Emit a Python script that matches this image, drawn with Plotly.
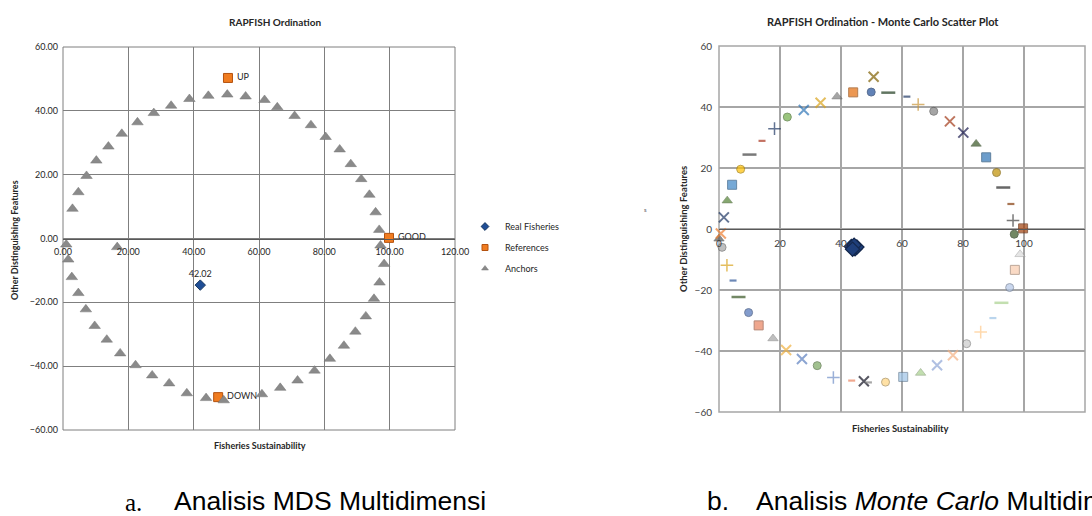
import plotly.graph_objects as go

W, H = 1092, 516

# ---------------- Chart a: RAPFISH Ordination (MDS) ----------------
anchor_x = [2.9, 4.7, 7.2, 10.2, 13.9, 18.0, 22.8, 27.8, 33.1, 38.7, 44.5, 50.3, 55.9,
            61.7, 65.6, 70.9, 75.9, 80.4, 84.7, 88.1, 91.3, 93.8, 95.7, 96.8, 97.2,
            1.0, 16.6,
            1.6, 2.7, 4.7, 7.0, 9.7, 13.4, 17.5, 22.2, 27.3, 32.5, 37.9, 43.8, 49.2,
            60.9, 66.5, 71.8, 77.0, 81.7, 86.0, 89.5, 92.7, 95.2, 96.9, 98.3]
anchor_y = [9.3, 14.5, 19.6, 24.4, 28.8, 32.8, 36.4, 39.3, 41.6, 43.7, 44.7, 45.1, 44.5,
            43.4, 41.1, 38.4, 35.5, 31.8, 27.9, 23.3, 18.6, 13.7, 8.2, 2.7, -2.2,
            -1.9, -2.7,
            -6.6, -12.1, -17.1, -22.2, -27.4, -31.7, -36.0, -39.7, -42.9, -45.4, -48.5, -50.0, -50.7,
            -48.8, -46.8, -44.5, -41.4, -37.7, -33.6, -29.2, -24.4, -18.9, -13.8, -8.0]
ref_x = [-0.5, 99.8, 50.5, 47.5]
ref_y = [-2.4, 0.2, 50.3, -49.7]
ref_labels = ["BAD", "GOOD", "UP", "DOWN"]
real_x = [42.02]
real_y = [-14.6]
real_labels = ["42.02"]
a_xticks = [0, 20, 40, 60, 80, 100, 120]
a_yticks = [-60, -40, -20, 0, 20, 40, 60]
legend_names = ["Real Fisheries", "References", "Anchors"]

# ---------------- Chart b: Monte Carlo scatter ----------------
mc_x = [0.0, 0.6, 1.6, 2.7, 4.3, 7.1, 10.0, 14.1, 18.2, 22.4, 27.8, 33.3, 38.7, 44.0,
        49.9, 50.7, 55.5, 61.6, 65.3, 70.4, 75.7, 80.1, 84.3, 87.6, 91.0, 93.2, 95.7,
        96.4, 99.7, 96.8,
        1.0, 2.6, 4.6, 6.4, 9.7, 13.0, 17.7, 22.0, 27.2, 32.2, 37.5, 43.5, 47.5, 49.0,
        54.6, 60.4, 66.1, 71.5, 76.7, 81.2, 85.8, 89.8, 92.6, 95.3, 97.0, 98.7]
mc_y = [-3.2, -1.5, 3.8, 9.3, 14.5, 19.6, 24.4, 28.9, 32.9, 36.7, 39.0, 41.4, 43.4, 44.8,
        44.9, 49.9, 44.7, 43.4, 40.8, 38.6, 35.3, 31.6, 27.9, 23.5, 18.5, 13.6, 8.2,
        2.8, 0.2, -1.7,
        -6.0, -11.9, -16.9, -22.3, -27.4, -31.6, -35.9, -39.7, -42.6, -44.8, -48.7, -49.7, -49.9, -50.3,
        -50.2, -48.5, -47.2, -44.7, -41.4, -37.6, -33.8, -29.2, -24.2, -19.2, -13.4, -8.3]
mc_real_x = [43.4, 44.0, 44.6, 45.2, 44.3, 43.8]
mc_real_y = [-5.7, -6.2, -6.5, -5.9, -5.3, -6.6]
b_xticks = [0, 20, 40, 60, 80, 100, 120]
b_yticks = [-60, -40, -20, 0, 20, 40, 60]

# marker styles for the Monte Carlo points (kind code, colour)
mc_kind = ['t', 'x', 'x', 't', 's', 'c', '-', '.', '+', 'c', 'x', 'x', 't', 's',
           'c', 'x', '-', '.', '+', 'c', 'x', 'x', 't', 's', 'c', '-', '.',
           '+', 's', 'c',
           'c', '+', '.', '-', 'c', 's', 't', 'x', 'x', 'c', '+', '.', 'x', '.',
           'c', 's', 't', 'x', 'x', 'c', '+', '.', '-', 'c', 's', 't']
mc_color = ['#595959', '#ed7d31', '#203864', '#548235', '#3d85c6', '#ffc000', '#404040', '#a9341f',
            '#203864', '#70ad47', '#2e75b6', '#d9a21b', '#808080', '#e46c0a',
            '#1f4e9a', '#7f6000', '#1e3a1e', '#203864', '#c9963a', '#808080', '#a33a1a', '#1a1a4e',
            '#375623', '#2e75b6', '#bf9000', '#262626', '#843c0c',
            '#404040', '#a0410d', '#375623',
            '#a5a5a5', '#d9a21b', '#2e5597', '#375623', '#4f73b8', '#e9835f', '#a5a5a5', '#f0b040',
            '#5b7fbf', '#7aa860', '#6f8fc7', '#e9835f', '#101020', '#808080',
            '#ffd580', '#9dc3e6', '#a9d18e', '#8fa5d6', '#f4b183', '#c9c9c9', '#ffc98a', '#9dc3e6',
            '#a9d18e', '#b4c7e7', '#f8cbad', '#dbdbdb']

KIND_SYMBOL = {'c': 'circle', 's': 'square', 't': 'triangle-up', 'x': 'x-thin-open',
               '+': 'cross-thin-open', '-': 'line-ew-open', '.': 'line-ew-open'}
KIND_SIZE = {'c': 8, 's': 9, 't': 9, 'x': 10, '+': 9, '-': 10, '.': 5}
KIND_LW = {'c': 1, 's': 1, 't': 0.6, 'x': 2, '+': 1.5, '-': 2.5, '.': 2.2}


def darker(hexc, f=0.65):
    r, g, b = int(hexc[1:3], 16), int(hexc[3:5], 16), int(hexc[5:7], 16)
    return '#%02x%02x%02x' % (int(r * f), int(g * f), int(b * f))


mc_line_color = [c if k in 'x+-.' else darker(c) for k, c in zip(mc_kind, mc_color)]

FONT = "Lato, Calibri, 'Open Sans', sans-serif"


def px(v):
    return v / W


def py(v):
    return 1 - v / H


A_XDOM = [px(63), px(455)]
A_YDOM = [py(430), py(47)]
B_XDOM = [px(719), px(1085)]
B_YDOM = [py(412), py(46)]

REAL_MARK = dict(symbol='diamond', color='#1f4e96', line=dict(color='#17375e', width=1))
REF_MARK = dict(symbol='square', color='#f07c20', line=dict(color='#b4520f', width=1))
ANC_MARK = dict(symbol='triangle-up', color='#8a8a8a', line=dict(color='#777777', width=0.5))

fig = go.Figure()

# chart a traces
fig.add_trace(go.Scatter(
    x=real_x, y=real_y, mode='markers+text', showlegend=False,
    text=real_labels, textposition='top center',
    textfont=dict(size=9, color='#262626', family=FONT),
    marker=dict(size=8, **REAL_MARK), xaxis='x', yaxis='y', cliponaxis=False))
fig.add_trace(go.Scatter(
    x=ref_x, y=ref_y, mode='markers+text', showlegend=False,
    text=[' ' + t for t in ref_labels], textposition='middle right',
    textfont=dict(size=9, color='#262626', family=FONT),
    marker=dict(size=9, **REF_MARK), xaxis='x', yaxis='y', cliponaxis=False))
fig.add_trace(go.Scatter(
    x=anchor_x, y=anchor_y, mode='markers', showlegend=False,
    marker=dict(size=10, **ANC_MARK), xaxis='x', yaxis='y', cliponaxis=False))

# legend entries (small symbols like the original legend)
for i, (name, mk) in enumerate(zip(legend_names, [REAL_MARK, REF_MARK, ANC_MARK])):
    fig.add_trace(go.Scatter(x=[None], y=[None], mode='markers', name=name,
                             legendgroup='g%d' % i,
                             marker=dict(size=6, **mk), xaxis='x', yaxis='y'))

# chart b traces
fig.add_trace(go.Scatter(
    x=mc_real_x, y=mc_real_y, mode='markers', showlegend=False,
    marker=dict(symbol='diamond', size=11, color='#1f3f7a', line=dict(color='#14284d', width=1.2)),
    xaxis='x2', yaxis='y2', cliponaxis=False))
fig.add_trace(go.Scatter(
    x=mc_x, y=mc_y, mode='markers', showlegend=False,
    marker=dict(symbol=[KIND_SYMBOL[k] for k in mc_kind],
                size=[KIND_SIZE[k] for k in mc_kind],
                color=mc_color,
                line=dict(color=mc_line_color, width=[KIND_LW[k] for k in mc_kind])),
    xaxis='x2', yaxis='y2', cliponaxis=False))

tickfont_a = dict(size=9, color='#262626', family=FONT)
tickfont_b = dict(size=10, color='#404040', family=FONT)

fig.update_layout(
    width=W, height=H, margin=dict(l=0, r=0, t=0, b=0, autoexpand=False),
    paper_bgcolor='white', plot_bgcolor='white',
    font=dict(family=FONT),
    showlegend=True,
    legend=dict(x=px(465), y=py(212), xanchor='left', yanchor='top',
                font=dict(size=9, color='#262626', family=FONT),
                itemsizing='trace', tracegroupgap=2, bgcolor='rgba(0,0,0,0)'),
    xaxis=dict(domain=A_XDOM, range=[0, 120], tickvals=a_xticks, tickformat='.2f',
               anchor='free', position=(A_YDOM[0] + A_YDOM[1]) / 2, automargin=False,
               showgrid=True, gridcolor='#7f7f7f', gridwidth=1, zeroline=False,
               showline=True, linecolor='#595959', linewidth=1, ticks='', ticklabelstandoff=5,
               tickfont=tickfont_a),
    yaxis=dict(domain=A_YDOM, range=[-60, 60], tickvals=a_yticks, tickformat='.2f',
               anchor='x', automargin=False, showgrid=True, gridcolor='#7f7f7f', gridwidth=1,
               zeroline=False, showline=False, ticks='', ticklabelstandoff=4, tickfont=tickfont_a),
    xaxis2=dict(domain=B_XDOM, range=[0, 120], tickvals=b_xticks,
                anchor='free', position=(B_YDOM[0] + B_YDOM[1]) / 2, automargin=False,
                showgrid=True, gridcolor='#a6a6a6', gridwidth=1.5, zeroline=False,
                showline=True, linecolor='#595959', linewidth=1.2, ticks='', ticklabelstandoff=5,
                tickfont=tickfont_b),
    yaxis2=dict(domain=B_YDOM, range=[-60, 60], tickvals=b_yticks,
                anchor='x2', automargin=False, showgrid=True, gridcolor='#a6a6a6', gridwidth=1.5,
                zeroline=False, showline=False, ticks='', ticklabelstandoff=6, tickfont=tickfont_b),
)

# plot-area frames
fig.add_shape(type='rect', xref='x domain', yref='y domain', x0=0, x1=1, y0=0, y1=1,
              line=dict(color='#7f7f7f', width=1), layer='below')
fig.add_shape(type='rect', xref='x2 domain', yref='y2 domain', x0=0, x1=1, y0=0, y1=1,
              line=dict(color='#a6a6a6', width=1.5), layer='below')

ann = []
# titles
ann.append(dict(text='<b>RAPFISH Ordination</b>', x=px(275), y=py(22), font=dict(size=10, color='#262626')))
ann.append(dict(text='<b>RAPFISH Ordination - Monte Carlo Scatter Plot</b>', x=px(883), y=py(22),
                font=dict(size=11, color='#262626')))
# axis titles
ann.append(dict(text='<b>Fisheries Sustainability</b>', x=px(260), y=py(445), font=dict(size=9, color='#262626')))
ann.append(dict(text='<b>Fisheries Sustainability</b>', x=px(900), y=py(428), font=dict(size=9.5, color='#262626')))
ann.append(dict(text='<b>Other Distinguishing Features</b>', x=px(15), y=py(240), textangle=-90,
                font=dict(size=9, color='#262626')))
ann.append(dict(text='<b>Other Distinguishing Features</b>', x=px(683), y=py(229), textangle=-90,
                font=dict(size=9.5, color='#262626')))
ann.append(dict(text='s', x=px(645), y=py(209), font=dict(size=6, color='#595959')))
# captions
CAP = dict(y=0, yanchor='bottom', yshift=-2)
ann.append(dict(text='a.', x=px(123), xanchor='left', **CAP,
                font=dict(size=25, color='#000000', family="'Liberation Serif', 'Times New Roman', serif")))
ann.append(dict(text='Analisis MDS Multidimensi', x=px(172), xanchor='left', **CAP,
                font=dict(size=26.5, color='#000000', family="'Liberation Sans', Arial, sans-serif")))
ann.append(dict(text='b.', x=px(705), xanchor='left', **CAP,
                font=dict(size=26.5, color='#000000', family="'Liberation Sans', Arial, sans-serif")))
ann.append(dict(text='Analisis <i>Monte Carlo</i> Multidimensi', x=px(754), xanchor='left', **CAP,
                font=dict(size=26.5, color='#000000', family="'Liberation Sans', Arial, sans-serif")))

for a in ann:
    a.setdefault('xanchor', 'center')
    a.setdefault('yanchor', 'middle')
    a['xref'] = 'paper'
    a['yref'] = 'paper'
    a['showarrow'] = False
    fig.add_annotation(**a)

fig.write_html("out.html", config={'displayModeBar': False},
               post_script="document.body.style.margin='0px';document.body.style.overflow='hidden';")
